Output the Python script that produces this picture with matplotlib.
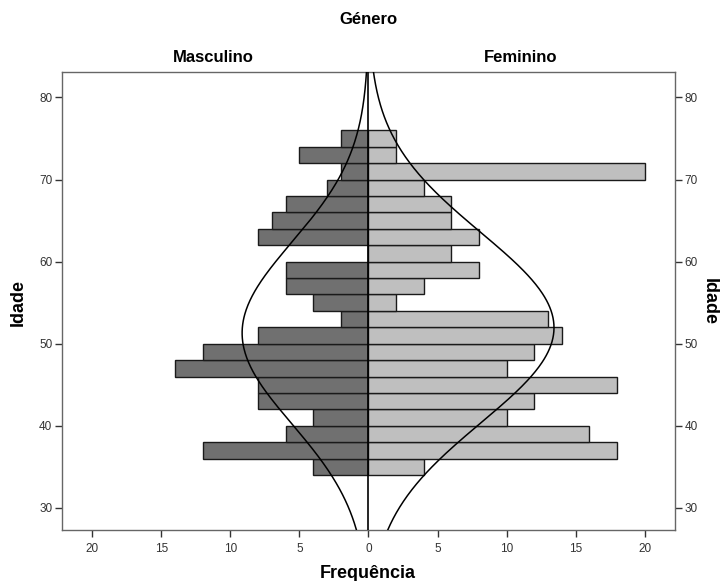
import numpy as np
import matplotlib
matplotlib.use("Agg")
import matplotlib.pyplot as plt

plt.rcParams['font.family'] = ['Liberation Sans', 'DejaVu Sans']

# Age bins (lower edges, width 2 years)
bin_lower = [34, 36, 38, 40, 42, 44, 46, 48, 50, 52, 54, 56, 58, 60, 62, 64, 66, 68, 70, 72, 74]
bin_width = 2
masculino = [4, 12, 6, 4, 8, 8, 14, 12, 8, 2, 4, 6, 6, 0, 8, 7, 6, 3, 2, 5, 2]
feminino = [4, 18, 16, 10, 12, 18, 10, 12, 14, 13, 2, 4, 8, 6, 8, 6, 6, 4, 20, 2, 2]

# Normal curve parameters
masc_mean, masc_sd = 51.3, 11.07
fem_mean, fem_sd = 51.95, 11.58

x_ticks = [-20, -15, -10, -5, 0, 5, 10, 15, 20]
y_ticks = [30, 40, 50, 60, 70, 80]

fig = plt.figure(figsize=(7.21, 5.81), dpi=100)
ax = fig.add_axes([62/721, 51/581, 613/721, 458/581])

centers = np.array(bin_lower) + bin_width / 2
ax.barh(centers, -np.array(masculino), height=bin_width, color='#707070',
        edgecolor='#1a1a1a', linewidth=1.0, zorder=2)
ax.barh(centers, np.array(feminino), height=bin_width, color='#bfbfbf',
        edgecolor='#1a1a1a', linewidth=1.0, zorder=2)

ylo, yhi = 27.3, 83.1
yy = np.linspace(ylo, yhi, 400)
n_m = sum(masculino)
n_f = sum(feminino)
dm = n_m * bin_width / (masc_sd * np.sqrt(2 * np.pi)) * np.exp(-(yy - masc_mean) ** 2 / (2 * masc_sd ** 2))
df = n_f * bin_width / (fem_sd * np.sqrt(2 * np.pi)) * np.exp(-(yy - fem_mean) ** 2 / (2 * fem_sd ** 2))
ax.plot(-dm, yy, color='black', linewidth=1.1, zorder=3)
ax.plot(df, yy, color='black', linewidth=1.1, zorder=3)
ax.axvline(0, color='black', linewidth=1.2, zorder=4)

ax.set_xlim(-22.2, 22.2)
ax.set_ylim(ylo, yhi)
ax.set_xticks(x_ticks)
ax.set_xticklabels([str(abs(t)) for t in x_ticks])
ax.set_yticks(y_ticks)
ax.tick_params(axis='both', direction='out', length=5, width=1, labelsize=8.5,
               colors='#333333', pad=2)
ax.tick_params(axis='x', pad=4)
ax.tick_params(axis='y', right=True, labelright=True)
for s in ax.spines.values():
    s.set_color('#666666')
    s.set_linewidth(1)

fig.text(368/721, 1 - 573/581, 'Frequência', fontsize=13, fontweight='bold', ha='center', va='center')
fig.text(18.5/721, 1 - 302/581, 'Idade', rotation=90, fontsize=13, fontweight='bold',
         ha='center', va='center')
fig.text(709/721, 1 - 302/581, 'Idade', rotation=270, fontsize=13, fontweight='bold',
         ha='center', va='center')

fig.text(368/721, 1 - 19/581, 'Género', fontsize=12, fontweight='bold', ha='center', va='center')
fig.text(213/721, 1 - 57/581, 'Masculino', fontsize=12, fontweight='bold', ha='center', va='center')
fig.text(521/721, 1 - 57/581, 'Feminino', fontsize=12, fontweight='bold', ha='center', va='center')

fig.savefig('out.png', dpi=100)
